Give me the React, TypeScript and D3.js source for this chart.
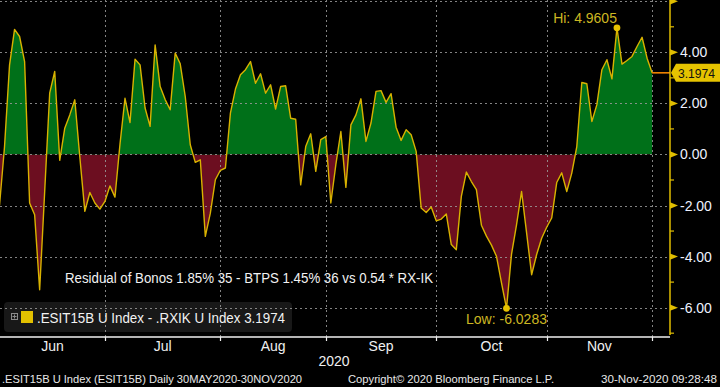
import React from "react";
import * as d3 from "d3";

// Residual series, one value per trading day, 01-Jun-2020 .. 30-Nov-2020
const values: number[] = [
  -2.0, 0.3, 3.5, 4.9, 4.62, 3.64, -1.9, -2.36, -5.3, -1.45,
  2.4, 3.25, -0.23, 1.03, 1.55, 2.14, -0.1, -2.23, -1.49, -1.9,
  -2.14, -1.84, -1.23, -1.67, 0.4, 2.2, 1.25, 3.73, 3.51, 1.82,
  1.1, 4.29, 2.66, 2.15, 1.75, 3.97, 3.55, 2.27, 0.38, -0.31,
  -0.21, -3.21, -2.3, -0.99, -0.62, -0.53, 1.62, 2.56, 3.12, 3.32,
  3.64, 2.79, 3.16, 2.4, 2.73, 1.78, 2.66, 2.69, 1.42, 1.38,
  -1.19, 0.31, 0.81, -0.66, 0.58, 0.7, -1.9, -0.4, 0.9, -1.29,
  1.16, 1.55, 2.18, 0.51, 1.23, 2.47, 2.5, 2.04, 2.38, 1.07,
  0.55, 0.97, 0.77, 0.12, -2.1, -2.27, -2.06, -2.6, -2.53, -2.33,
  -3.53, -3.73, -1.64, -0.69, -1.06, -1.38, -2.77, -3.2, -3.55, -3.99,
  -5.03, -6.0283, -3.9, -2.75, -1.45, -3.07, -4.71, -3.92, -3.28, -2.85,
  -2.49, -1.1, -0.72, -1.45, -0.73, 0.31, 2.82, 2.77, 1.29, 1.95,
  3.32, 3.71, 2.96, 4.9605, 3.54, 3.68, 3.84, 4.23, 4.59, 3.77,
  3.1974,
];

const monthLabels: string[] = ["Jun", "Jul", "Aug", "Sep", "Oct", "Nov"];
// index of the last trading day of each month
const monthEndIdx: number[] = [21, 44, 65, 87, 109, 130];
const yMajorTicks: number[] = [-6, -4, -2, 0, 2, 4, 6];
const yMinorTicks: number[] = [-7, -5, -3, -1, 1, 3, 5];
const yearLabel = "2020";
const titleText = "Residual of Bonos 1.85% 35 - BTPS 1.45% 36 vs 0.54 * RX-IK";
const legendText = ".ESIT15B U Index - .RXIK U Index 3.1974";
const footLeft = ".ESIT15B U Index (ESIT15B)  Daily 30MAY2020-30NOV2020";
const footMid = "Copyright\u00A9 2020 Bloomberg Finance L.P.";
const footRight = "30-Nov-2020 09:28:48";

const W = 720;
const H = 387;
const PL = 0;
const PR = 670;
const PT = 0;
const PB = 337;
const FONT = "'Liberation Sans', Arial, sans-serif";

export default function App() {
  const x = d3.scaleLinear().domain([0, values.length - 1]).range([-0.5, 652.1]);
  const y = d3.scaleLinear().domain([-7.15, 6.05]).range([PB, PT]);
  const y0 = y(0);

  const area = d3
    .area<number>()
    .x((_, i) => x(i))
    .y0(y0)
    .y1((d) => y(d));
  const line = d3
    .line<number>()
    .x((_, i) => x(i))
    .y((d) => y(d));

  const hiI = d3.maxIndex(values);
  const loI = d3.minIndex(values);
  const lastI = values.length - 1;
  const lastV = values[lastI];

  const bounds = [PL, ...monthEndIdx.map((i) => x(i))];
  const gridX = monthEndIdx.map((i) => x(i));

  const fmt = d3.format(".2f");

  return (
    <svg
      width={W}
      height={H}
      style={{ position: "absolute", left: 0, top: 0, background: "#000" }}
      fontFamily={FONT}
    >
      <defs>
        <clipPath id="plot">
          <rect x={PL} y={PT} width={PR - PL} height={PB - PT} />
        </clipPath>
        <clipPath id="pos">
          <rect x={PL} y={PT} width={PR - PL} height={y0 - PT} />
        </clipPath>
        <clipPath id="neg">
          <rect x={PL} y={y0} width={PR - PL} height={PB - y0} />
        </clipPath>
      </defs>
      <rect x={0} y={0} width={W} height={H} fill="#000" />

      <g clipPath="url(#plot)">
        <path d={area(values) || ""} fill="#007019" clipPath="url(#pos)" />
        <path d={area(values) || ""} fill="#6c0e20" clipPath="url(#neg)" />
      </g>

      {/* legend box */}
      <rect x={4} y={302} width={288} height={30} rx={4} fill="#1c1c1c" opacity={0.85} />

      {/* grid */}
      <g stroke="#9a9a9a" strokeDasharray="2,3" strokeWidth={1} opacity={0.85}>
        {yMajorTicks.map((t) => (
          <line key={"h" + t} x1={PL} x2={PR} y1={Math.round(y(t)) + 0.5} y2={Math.round(y(t)) + 0.5} />
        ))}
        {gridX.map((gx, k) => (
          <line key={"v" + k} x1={Math.round(gx) + 0.5} x2={Math.round(gx) + 0.5} y1={PT} y2={PB} />
        ))}
      </g>

      <g clipPath="url(#plot)">
        <path d={line(values) || ""} fill="none" stroke="#d8b200" strokeWidth={1.4} strokeLinejoin="round" />
      </g>

      {/* last value connector */}
      <line x1={x(lastI)} x2={PR} y1={y(lastV)} y2={y(lastV)} stroke="#ff8c00" strokeWidth={1.5} />

      {/* hi / low markers */}
      <circle cx={x(hiI)} cy={y(values[hiI])} r={3.4} fill="#e6c300" />
      <circle cx={x(loI)} cy={y(values[loI])} r={3.4} fill="#e6c300" />
      <text x={x(hiI)} y={23} fill="#cdb722" fontSize={14} textAnchor="end">
        {"Hi: " + values[hiI].toFixed(4)}
      </text>
      <text x={x(loI)} y={324} fill="#cdb722" fontSize={14} textAnchor="middle">
        {"Low: " + values[loI].toFixed(4)}
      </text>

      {/* annotation */}
      <text x={65} y={283} fill="#f2f2f2" fontSize={14} textLength={368} lengthAdjust="spacingAndGlyphs">
        {titleText}
      </text>

      {/* legend contents */}
      <rect x={11.5} y={313.5} width={6} height={6} fill="none" stroke="#8a8a8a" strokeWidth={1} />
      <line x1={12.5} x2={16.5} y1={316.5} y2={316.5} stroke="#8a8a8a" />
      <line x1={14.5} x2={14.5} y1={314.5} y2={318.5} stroke="#8a8a8a" />
      <rect x={21} y={311} width={12} height={12} fill="#e2c000" />
      <text x={37} y={322.5} fill="#f2f2f2" fontSize={14} textLength={248} lengthAdjust="spacingAndGlyphs">
        {legendText}
      </text>

      {/* right axis */}
      <line x1={PR} x2={PR} y1={PT} y2={335} stroke="#e0bd00" strokeWidth={1.5} />
      {yMinorTicks.map((t) => (
        <line key={"m" + t} x1={PR} x2={PR + 4} y1={y(t)} y2={y(t)} stroke="#e0bd00" strokeWidth={1.2} />
      ))}
      {yMajorTicks.map((t) => (
        <g key={"t" + t}>
          <path
            d={`M${PR},${y(t) - 3.2}L${PR + 8},${y(t)}L${PR},${y(t) + 3.2}Z`}
            fill="#e0bd00"
          />
          {t < 6 && (
            <text x={680} y={y(t) + 5} fill="#eef2ff" fontSize={14}>
              {t < 0 ? "-" + fmt(-t) : fmt(t)}
            </text>
          )}
        </g>
      ))}

      {/* last value tag */}
      <path
        d={`M${PR + 1},${y(lastV)}L${PR + 6},${y(lastV) - 9}L${W},${y(lastV) - 9}L${W},${y(lastV) + 9}L${PR + 6},${y(lastV) + 9}Z`}
        fill="#e6c300"
      />
      <text x={678} y={y(lastV) + 5} fill="#111" fontSize={13.5} textLength={37} lengthAdjust="spacingAndGlyphs">
        {lastV.toFixed(4)}
      </text>

      {/* bottom axis */}
      <line x1={PL} x2={PR} y1={PB} y2={PB} stroke="#f0f0f0" strokeWidth={1.5} />
      {gridX.map((gx, k) => (
        <line key={"bt" + k} x1={Math.round(gx) + 0.5} x2={Math.round(gx) + 0.5} y1={PB} y2={PB + 4} stroke="#f0f0f0" strokeWidth={1.2} />
      ))}
      {monthLabels.map((m, k) => (
        <text key={m} x={(bounds[k] + bounds[k + 1]) / 2} y={351} fill="#f0f0f0" fontSize={14} textAnchor="middle">
          {m}
        </text>
      ))}
      <text x={334} y={366} fill="#f0f0f0" fontSize={14} textAnchor="middle">
        {yearLabel}
      </text>

      {/* footer */}
      <text x={2} y={383} fill="#e8e8e8" fontSize={11} textLength={300} lengthAdjust="spacingAndGlyphs">
        {footLeft}
      </text>
      <text x={348} y={383} fill="#e8e8e8" fontSize={11} textLength={206} lengthAdjust="spacingAndGlyphs">
        {footMid}
      </text>
      <text x={601} y={383} fill="#e8e8e8" fontSize={11} textLength={116} lengthAdjust="spacingAndGlyphs">
        {footRight}
      </text>
    </svg>
  );
}
